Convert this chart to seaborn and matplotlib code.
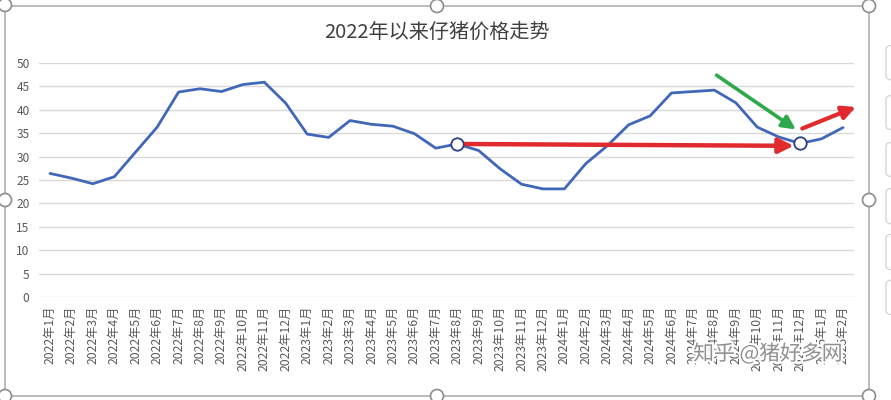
import numpy as np
import pandas as pd
import matplotlib
matplotlib.use("Agg")
import matplotlib.pyplot as plt
import matplotlib.patheffects as pe
from matplotlib.patches import Ellipse, FancyBboxPatch
import seaborn as sns

# monthly piglet price
months = ([f"2022年{m}月" for m in range(1, 13)]
          + [f"2023年{m}月" for m in range(1, 13)]
          + [f"2024年{m}月" for m in range(1, 13)]
          + ["2025年1月", "2025年2月"])
prices = [26.4, 25.4, 24.2, 25.7, 31.0, 36.3, 43.8, 44.5, 43.9, 45.4, 45.9, 41.4,
          34.8, 34.1, 37.7, 36.9, 36.5, 34.9, 31.8, 32.7, 31.3, 27.4, 24.1, 23.1,
          23.1, 28.5, 32.3, 36.8, 38.7, 43.6, 43.9, 44.2, 41.5, 36.3, 34.2, 32.8,
          33.8, 36.2]
marked = [19, 35]

df = pd.DataFrame({"idx": np.arange(len(months)), "month": months, "price": prices})

sns.set_style("white")
plt.rcParams["font.family"] = ["Noto Sans CJK SC", "DejaVu Sans"]

W, H = 891, 400
fig = plt.figure(figsize=(W / 100, H / 100), dpi=100)
ax = fig.add_axes([39.3 / W, 1 - 297 / H, (853.7 - 39.3) / W, (297 - 63) / H])

sns.lineplot(data=df, x="idx", y="price", ax=ax, color="#4167b8", lw=2.0, sort=False)

# horizontal comparison arrow
y0 = prices[marked[0]]
ax.annotate("", xy=(marked[1] - 0.3, y0 - 0.4), xytext=(marked[0], y0),
            annotation_clip=False,
            arrowprops=dict(arrowstyle="-|>", lw=3.2, color="#e02a2e",
                            mutation_scale=22, shrinkA=0, shrinkB=0))
# green down arrow
ax.annotate("", xy=(marked[1] - 0.2, prices[marked[1]] + 3.0),
            xytext=(31.1, prices[31] + 3.2), annotation_clip=False,
            arrowprops=dict(arrowstyle="-|>", lw=2.6, color="#2da84a",
                            mutation_scale=20, shrinkA=0, shrinkB=0))
# red up arrow
ax.annotate("", xy=(37.6, prices[37] + 4.4), xytext=(35.1, prices[35] + 3.2),
            annotation_clip=False,
            arrowprops=dict(arrowstyle="-|>", lw=3.0, color="#e02a2e",
                            mutation_scale=20, shrinkA=0, shrinkB=0))

sub = df.iloc[marked]
sns.scatterplot(data=sub, x="idx", y="price", ax=ax, s=80, color="white",
                edgecolor="#2c3f85", linewidth=1.3, zorder=5)

ax.set_xlim(-0.5, len(months) - 0.5)
ax.set_ylim(0, 50)
ax.set_yticks(np.arange(0, 51, 5))
ax.set_xticks(df["idx"])
ax.set_xticklabels(months, rotation=90, fontsize=8.8, color="#595959")
ax.tick_params(axis="y", labelsize=8.6, colors="#595959", length=0, pad=7)
ax.tick_params(axis="x", length=0, pad=6)
ax.grid(axis="y", color="#d9d9d9", lw=1)
ax.set_axisbelow(True)
for s in ax.spines.values():
    s.set_visible(False)
ax.set_xlabel("")
ax.set_ylabel("")

fig.text(437 / W, 1 - 32 / H, "2022年以来仔猪价格走势", ha="center", va="center",
         fontsize=14.5, color="#404040")

# chart frame and selection handles
def px(x, y):
    return x / W, 1 - y / H

frame = plt.Rectangle(px(5, 396), 864 / W, 390 / H, transform=fig.transFigure,
                      fill=False, ec="#b0b0b0", lw=1.2)
fig.add_artist(frame)
for hx, hy in [(5, 5), (437, 6), (869, 6), (5, 200), (869, 200), (5, 396), (437, 396), (869, 396)]:
    fig.add_artist(Ellipse(px(hx, hy), 13 / W, 13 / H, transform=fig.transFigure,
                           fc="white", ec="#8c8c8c", lw=1.2))
for y1, y2 in [(45, 80), (95, 130), (142, 177), (188, 224), (234, 270), (280, 315)]:
    fig.add_artist(FancyBboxPatch(px(886, y2), 20 / W, (y2 - y1) / H,
                                  boxstyle="round,pad=0,rounding_size=0.01",
                                  transform=fig.transFigure, fc="white", ec="#d6d6d6", lw=1))

fig.text(768 / W, 1 - 354 / H, "知乎 @猪好多网", ha="center", va="center", fontsize=15,
         color="#8f8f8f", path_effects=[pe.withStroke(linewidth=3, foreground="white")])

fig.savefig("out.png", dpi=100)
